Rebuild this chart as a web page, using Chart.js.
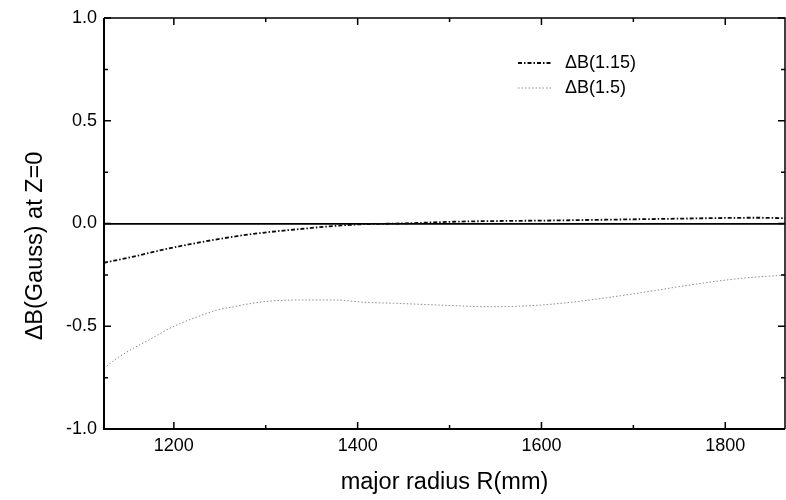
<!DOCTYPE html>
<html>
<head>
<meta charset="utf-8">
<script src="https://cdn.jsdelivr.net/npm/chart.js@4.4.1/dist/chart.umd.min.js"></script>
<style>
  html, body { margin: 0; padding: 0; background: #ffffff; }
  #wrap { width: 786px; height: 500px; }
</style>
</head>
<body>
<div id="wrap"><canvas id="c" width="786" height="500"></canvas></div>
<script>
// ---- data ----
const r115 = [1124, 1156, 1192, 1228, 1265, 1301, 1337, 1374, 1403, 1446, 1508, 1617, 1726, 1835, 1865];
const dB115 = [-0.191, -0.161, -0.124, -0.092, -0.064, -0.043, -0.027, -0.012, -0.004, 0.0, 0.009, 0.015, 0.022, 0.028, 0.026];

const r15 = [1124, 1138, 1156, 1174, 1192, 1210, 1228, 1247, 1265, 1283, 1301, 1319, 1337, 1374, 1410, 1439, 1490, 1544, 1599, 1653, 1708, 1762, 1817, 1865];
const dB15 = [-0.705, -0.656, -0.607, -0.564, -0.518, -0.481, -0.450, -0.421, -0.405, -0.390, -0.379, -0.374, -0.372, -0.372, -0.384, -0.388, -0.397, -0.405, -0.397, -0.372, -0.337, -0.299, -0.267, -0.251];

const seriesNames = ['\u0394B(1.15)', '\u0394B(1.5)'];
const xMajorTicks = [1200, 1400, 1600, 1800];
const xMinorTicks = [1300, 1500, 1700];
const yMajorTicks = [-1.0, -0.5, 0.0, 0.5, 1.0];
const yMinorTicks = [-0.75, -0.25, 0.25, 0.75];
const xRange = [1124, 1865];
const yRange = [-1.0, 1.0];
const xTitle = 'major radius R(mm)';
const yTitle = '\u0394B(Gauss) at Z=0';

const FONT = '"Liberation Sans", Arial, Helvetica, sans-serif';

const toPts = (xs, ys) => xs.map((x, i) => ({ x: x, y: ys[i] }));

const styles = [
  { color: '#0a0a0a', width: 1.8, dash: [4, 2, 1.5, 2] },
  { color: '#8c8c8c', width: 1.0, dash: [1.5, 2] }
];

// frame, inward ticks, y title and legend
const framePlugin = {
  id: 'framePlugin',
  afterDatasetsDraw(chart) {
    const { ctx, chartArea: a, scales } = chart;
    const xs = scales.x, ys = scales.y;
    ctx.save();
    ctx.strokeStyle = '#000';
    ctx.lineCap = 'butt';
    // frame
    ctx.lineWidth = 2;
    ctx.beginPath();
    ctx.moveTo(a.left, a.top); ctx.lineTo(a.left, a.bottom); ctx.lineTo(a.right, a.bottom);
    ctx.stroke();
    ctx.lineWidth = 1.5;
    ctx.beginPath();
    ctx.moveTo(a.left, a.top); ctx.lineTo(a.right, a.top); ctx.lineTo(a.right, a.bottom);
    ctx.stroke();
    // ticks
    ctx.lineWidth = 1.5;
    const xt = (v, len) => {
      const p = xs.getPixelForValue(v);
      ctx.beginPath();
      ctx.moveTo(p, a.bottom); ctx.lineTo(p, a.bottom - len);
      ctx.moveTo(p, a.top); ctx.lineTo(p, a.top + len);
      ctx.stroke();
    };
    const yt = (v, len) => {
      const p = ys.getPixelForValue(v);
      ctx.beginPath();
      ctx.moveTo(a.left, p); ctx.lineTo(a.left + len, p);
      ctx.moveTo(a.right, p); ctx.lineTo(a.right - len, p);
      ctx.stroke();
    };
    xMajorTicks.forEach(v => xt(v, 7));
    xMinorTicks.forEach(v => xt(v, 4));
    yMajorTicks.forEach(v => yt(v, 7));
    yMinorTicks.forEach(v => yt(v, 4));
    // y axis title
    ctx.save();
    ctx.translate(36, 246);
    ctx.rotate(-Math.PI / 2);
    ctx.font = '23.5px ' + FONT;
    ctx.fillStyle = '#000';
    ctx.textAlign = 'center';
    ctx.textBaseline = 'middle';
    ctx.fillText(yTitle, 0, 0);
    ctx.restore();
    // legend
    const lx0 = 518, lx1 = 552, tx = 565;
    const ly = [63, 88];
    ctx.font = '18px ' + FONT;
    ctx.textBaseline = 'middle';
    ctx.textAlign = 'left';
    ctx.fillStyle = '#000';
    seriesNames.forEach((name, i) => {
      const s = styles[i];
      ctx.strokeStyle = s.color;
      ctx.lineWidth = s.width;
      ctx.setLineDash(s.dash);
      ctx.beginPath();
      ctx.moveTo(lx0, ly[i]); ctx.lineTo(lx1, ly[i]);
      ctx.stroke();
      ctx.setLineDash([]);
      ctx.fillText(name, tx, ly[i]);
    });
    ctx.restore();
  }
};

new Chart(document.getElementById('c'), {
  type: 'line',
  data: {
    datasets: [
      {
        label: seriesNames[0],
        data: toPts(r115, dB115),
        borderColor: styles[0].color,
        borderWidth: styles[0].width,
        borderDash: styles[0].dash,
        pointRadius: 0,
        cubicInterpolationMode: 'monotone',
        fill: false
      },
      {
        label: seriesNames[1],
        data: toPts(r15, dB15),
        borderColor: styles[1].color,
        borderWidth: styles[1].width,
        borderDash: styles[1].dash,
        pointRadius: 0,
        cubicInterpolationMode: 'monotone',
        fill: false
      }
    ]
  },
  options: {
    responsive: false,
    animation: false,
    devicePixelRatio: 1,
    layout: { padding: { top: 18, right: 1, left: 0, bottom: 0 } },
    plugins: { legend: { display: false }, tooltip: { enabled: false } },
    scales: {
      x: {
        type: 'linear',
        min: xRange[0],
        max: xRange[1],
        afterBuildTicks: (s) => { s.ticks = xMajorTicks.map(v => ({ value: v })); },
        afterFit: (s) => { s.height = 71; },
        border: { display: false },
        grid: { display: false, drawTicks: false },
        ticks: {
          color: '#000',
          padding: 6,
          maxRotation: 0,
          font: { family: FONT, size: 18 },
          callback: (v) => String(v)
        },
        title: {
          display: true,
          text: xTitle,
          color: '#000',
          font: { family: FONT, size: 23.5 },
          padding: { top: 0, bottom: 3 }
        }
      },
      y: {
        type: 'linear',
        min: yRange[0],
        max: yRange[1],
        afterBuildTicks: (s) => { s.ticks = yMajorTicks.map(v => ({ value: v })); },
        afterFit: (s) => { s.width = 104; },
        border: { display: false },
        grid: {
          drawTicks: false,
          lineWidth: 1.8,
          color: (c) => (c.tick && c.tick.value === 0 ? '#000' : 'rgba(0,0,0,0)')
        },
        ticks: {
          color: '#000',
          padding: 7,
          font: { family: FONT, size: 18 },
          callback: (v) => Number(v).toFixed(1)
        },
        title: { display: false }
      }
    }
  },
  plugins: [framePlugin]
});
</script>
</body>
</html>
